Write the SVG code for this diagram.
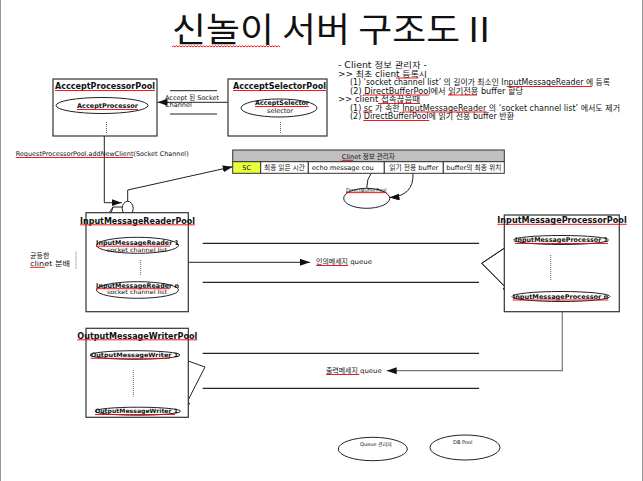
<svg xmlns="http://www.w3.org/2000/svg" width="643" height="481" viewBox="0 0 643 481">
<style>
text{font-family:"DejaVu Sans","Noto Sans CJK KR",sans-serif;fill:#111}
.b{font-weight:bold}
.t8{font-size:8px}
.t7{font-size:7px}
.t65{font-size:6.5px}
.t6{font-size:6px}
.t5{font-size:5px}
.title{font-family:"Noto Sans CJK KR","DejaVu Sans",sans-serif;font-size:34px}
.box{fill:#fff;stroke:#333;stroke-width:1.2}
.ell{fill:#fff;stroke:#222;stroke-width:1}
.sq{stroke:#e00;stroke-width:0.9;fill:none}
.dot{stroke:#666;stroke-width:1;stroke-dasharray:1,1;fill:none}
.con{stroke:#222;stroke-width:1;fill:none}
.q{stroke:#222;stroke-width:1.2}
.cell{fill:#fff;stroke:#333;stroke-width:1}
.c{text-anchor:middle}
</style>
<defs>
<marker id="arr" markerUnits="userSpaceOnUse" markerWidth="11" markerHeight="8" refX="10" refY="3.5" orient="auto">
<path d="M0,0 L10,3.5 L0,7 z" fill="#111"/>
</marker>
</defs>
<rect width="643" height="481" fill="#fff"/>
<line x1="0.5" y1="0" x2="0.5" y2="481" stroke="#999"/>
<line x1="642.5" y1="0" x2="642.5" y2="481" stroke="#999"/>

<g id="title">
<text class="title" x="172" y="42" textLength="318" lengthAdjust="spacingAndGlyphs">신놀이 서버 구조도 II</text>
<path class="sq" d="M172,47 l1.5,-1.2 l1.5,1.2 l1.5,-1.2 l1.5,1.2 l1.5,-1.2 l1.5,1.2 l1.5,-1.2 l1.5,1.2 l1.5,-1.2 l1.5,1.2 l1.5,-1.2 l1.5,1.2 l1.5,-1.2 l1.5,1.2 l1.5,-1.2 l1.5,1.2 l1.5,-1.2 l1.5,1.2 l1.5,-1.2 l1.5,1.2 l1.5,-1.2 l1.5,1.2 l1.5,-1.2 l1.5,1.2 l1.5,-1.2 l1.5,1.2 l1.5,-1.2 l1.5,1.2 l1.5,-1.2 l1.5,1.2 l1.5,-1.2 l1.5,1.2 l1.5,-1.2 l1.5,1.2 l1.5,-1.2 l1.5,1.2 l1.5,-1.2 l1.5,1.2 l1.5,-1.2 l1.5,1.2 l1.5,-1.2 l1.5,1.2 l1.5,-1.2 l1.5,1.2 l1.5,-1.2 l1.5,1.2 l1.5,-1.2 l1.5,1.2 l1.5,-1.2 l1.5,1.2 l1.5,-1.2 l1.5,1.2 l1.5,-1.2 l1.5,1.2 l1.5,-1.2 l1.5,1.2 l1.5,-1.2 l1.5,1.2 l1.5,-1.2 l1.5,1.2 l1.5,-1.2 l1.5,1.2 l1.5,-1.2 l1.5,1.2 l1.5,-1.2 l1.5,1.2 l1.5,-1.2 l1.5,1.2 l1.5,-1.2 l1.5,1.2 l1.5,-1.2 l1.5,1.2"/>
</g>

<g id="client-info-notes">
<text class="t8" x="338" y="68" textLength="89" lengthAdjust="spacingAndGlyphs">- Client 정보 관리자 -</text>
<text class="t8" x="338" y="76.5" textLength="89" lengthAdjust="spacingAndGlyphs">&gt;&gt; 최초 client 등록시</text>
<text class="t8" x="350" y="85" textLength="260" lengthAdjust="spacingAndGlyphs">(1) ‘socket channel list’ 의 길이가 최소인 InputMessageReader 에 등록</text>
<text class="t8" x="350" y="93.5" textLength="173" lengthAdjust="spacingAndGlyphs">(2) DirectBufferPool에서 읽기전용 buffer 할당</text>
<text class="t8" x="338" y="102" textLength="82" lengthAdjust="spacingAndGlyphs">&gt;&gt; client 접속끊음때</text>
<text class="t8" x="350" y="110.5" textLength="270" lengthAdjust="spacingAndGlyphs">(1) sc 가 속한 InputMessageReader 의 ‘socket channel list’ 에서도 제거</text>
<text class="t8" x="350" y="119" textLength="164" lengthAdjust="spacingAndGlyphs">(2) DirectBufferPool에 읽기 전용 buffer 반환</text>
<line class="sq" x1="396" y1="78" x2="418.5" y2="78"/>
<line class="sq" x1="506.7" y1="86.5" x2="591.7" y2="86.5"/>
<line class="sq" x1="363.3" y1="95" x2="429.3" y2="95"/>
<line class="sq" x1="448" y1="95" x2="477" y2="95"/>
<line class="sq" x1="378" y1="103.5" x2="420" y2="103.5"/>
<line class="sq" x1="363" y1="112" x2="372" y2="112"/>
<line class="sq" x1="401.7" y1="112" x2="486.7" y2="112"/>
<line class="sq" x1="363.3" y1="120.5" x2="429.3" y2="120.5"/>
</g>

<g id="connectors">
<line class="con" x1="228" y1="102.3" x2="157.5" y2="102.3" marker-end="url(#arr)"/>
<line class="con" x1="170" y1="90.7" x2="217" y2="90.7"/>
<line class="con" x1="170" y1="114" x2="217" y2="114"/>
<path class="con" d="M104.3,136 L104.3,202.7 L121.7,202.7" marker-end="url(#arr)"/>
<path class="con" d="M127.7,201.3 L127.7,190 L232.7,166.7" marker-end="url(#arr)"/>
<path class="con" d="M122.3,207 L113,207 L87,245 L96.7,245" marker-end="url(#arr)"/>
<path class="con" d="M113,207 L87,288.3 L96.7,288.3" marker-end="url(#arr)"/>
<path class="con" d="M366.7,188.3 Q367,168.5 384,167.8" marker-end="url(#arr)"/>
<path class="con" d="M413,173.3 Q414,196 389.5,197.5" marker-end="url(#arr)"/>
<line class="q" x1="202.7" y1="243.3" x2="479" y2="243.3"/>
<line class="q" x1="202.7" y1="282.3" x2="479" y2="282.3"/>
<line class="con" x1="188.3" y1="262.3" x2="310" y2="262.3" marker-end="url(#arr)"/>
<line class="q" x1="202.7" y1="353.3" x2="479" y2="353.3"/>
<line class="q" x1="202.7" y1="388.3" x2="479" y2="388.3"/>
<path d="M562.3,311.7 L562.3,370.7 L386.7,370.7" fill="none" stroke="#777" stroke-width="1.2" marker-end="url(#arr)"/>
<line class="con" x1="481.7" y1="263.3" x2="513.5" y2="242"/>
<line class="con" x1="481.7" y1="263.3" x2="511.7" y2="293.5"/>
<path class="con" d="M481.7,263.3 L513.5,242" marker-end="url(#arr)"/>
<path class="con" d="M481.7,263.3 L511.7,293.5" marker-end="url(#arr)"/>
<path class="con" d="M205,367 L175.5,356.5" marker-end="url(#arr)"/>
<path class="con" d="M205,367 L182.7,410.7" marker-end="url(#arr)"/>
</g>

<g id="queue-labels">
<text class="t65" x="165" y="99.5">Accept 된 Socket</text>
<text class="t65" x="165" y="107">Channel</text>
<text class="t65" x="15.7" y="156" textLength="173" lengthAdjust="spacingAndGlyphs">RequestProcessorPool.addNewClient(Socket Channel)</text>
<line class="sq" x1="15.7" y1="157.5" x2="133" y2="157.5"/>
<text class="t65" x="316" y="264" textLength="56" lengthAdjust="spacingAndGlyphs">인의메세지 queue</text>
<line class="sq" x1="316" y1="265.5" x2="348" y2="265.5"/>
<text class="t65" x="326" y="373" textLength="55.7" lengthAdjust="spacingAndGlyphs">출력메세지 queue</text>
<line class="sq" x1="326" y1="374.5" x2="359.3" y2="374.5"/>
<text class="t7" x="30" y="257.5">균등한</text>
<text class="t7" x="30" y="266" textLength="40" lengthAdjust="spacingAndGlyphs">clinet 분배</text>
<line class="sq" x1="30" y1="267.3" x2="45" y2="267.3"/>
<line class="dot" x1="76" y1="251.7" x2="76" y2="269.3"/>
</g>

<g id="AccceptProcessorPool">
<rect class="box" x="53" y="79" width="104" height="57"/>
<text class="b t8" x="55" y="89" textLength="100" lengthAdjust="spacingAndGlyphs">AccceptProcessorPool</text>
<line class="sq" x1="55" y1="90.5" x2="155" y2="90.5"/>
<ellipse class="ell" cx="102" cy="105.5" rx="46" ry="8"/>
<text class="b t65" x="77" y="108" textLength="61" lengthAdjust="spacingAndGlyphs">AcceptProcessor</text>
<line class="sq" x1="77" y1="109.5" x2="138" y2="109.5"/>
<line class="dot" x1="106.5" y1="122" x2="106.5" y2="133"/>
</g>

<g id="AccceptSelectorPool">
<rect class="box" x="228" y="79" width="99" height="57"/>
<text class="b t8" x="233" y="89" textLength="93" lengthAdjust="spacingAndGlyphs">AccceptSelectorPool</text>
<line class="sq" x1="233" y1="90.5" x2="326" y2="90.5"/>
<ellipse class="ell" cx="279" cy="108" rx="38" ry="9"/>
<text class="b t65" x="255" y="105.3" textLength="54" lengthAdjust="spacingAndGlyphs">AcceptSelector</text>
<line class="sq" x1="255" y1="106.5" x2="309" y2="106.5"/>
<text class="t65 c" x="280" y="113">selector</text>
<line class="dot" x1="280.5" y1="122" x2="280.5" y2="133"/>
</g>

<g id="junction">
<ellipse class="ell" cx="127.7" cy="208.3" rx="5.5" ry="7"/>
</g>

<g id="ClinetTable">
<rect x="232.7" y="150" width="271.6" height="11.7" fill="#c0c0c0" stroke="#333"/>
<text class="t65 c" x="368.3" y="159">Clinet 정보 관리자</text>
<line class="sq" x1="341.7" y1="160.3" x2="353.3" y2="160.3"/>
<rect x="232.7" y="161.7" width="28" height="11.6" fill="#e8ff3c" stroke="#333"/>
<rect class="cell" x="260.7" y="161.7" width="47.6" height="11.6"/>
<rect class="cell" x="308.3" y="161.7" width="76" height="11.6"/>
<rect class="cell" x="384.3" y="161.7" width="59" height="11.6"/>
<rect class="cell" x="443.3" y="161.7" width="61" height="11.6"/>
<text class="t65 c" x="246.7" y="169.8">SC</text>
<text class="t65 c" x="284.5" y="169.8" textLength="41" lengthAdjust="spacingAndGlyphs">최종 읽은 시간</text>
<text class="t65" x="311.7" y="169.8" textLength="62" lengthAdjust="spacingAndGlyphs">echo message cou</text>
<text class="t65 c" x="413.8" y="169.8" textLength="49" lengthAdjust="spacingAndGlyphs">읽기 전용 buffer</text>
<text class="t65 c" x="473.8" y="169.8" textLength="55" lengthAdjust="spacingAndGlyphs">buffer의 최종 위치</text>
</g>

<g id="DirectBufferPool">
<ellipse class="ell" cx="366.7" cy="198.3" rx="23" ry="10"/>
<text class="t5" x="346" y="191.5" textLength="40.5" lengthAdjust="spacingAndGlyphs">DirectBufferPool</text>
<line class="sq" x1="346" y1="192.6" x2="386.5" y2="192.6"/>
</g>

<g id="InputMessageReaderPool">
<rect class="box" x="86" y="212.7" width="102.3" height="99"/>
<text class="b t8" x="80" y="223.5" textLength="115" lengthAdjust="spacingAndGlyphs">InputMessageReaderPool</text>
<line class="sq" x1="80" y1="224.8" x2="195" y2="224.8"/>
<ellipse class="ell" cx="137.5" cy="245.3" rx="41" ry="8"/>
<text class="b t65" x="96" y="245" textLength="83" lengthAdjust="spacingAndGlyphs">InputMessageReader 1</text>
<line class="sq" x1="96" y1="246.2" x2="170" y2="246.2"/>
<text class="t6 c" x="137" y="251.8" textLength="60" lengthAdjust="spacingAndGlyphs">socket channel list</text>
<line class="dot" x1="140.7" y1="260" x2="140.7" y2="275"/>
<ellipse class="ell" cx="137.5" cy="290" rx="41" ry="8.3"/>
<text class="b t65" x="96" y="287.5" textLength="83" lengthAdjust="spacingAndGlyphs">InputMessageReader n</text>
<line class="sq" x1="96" y1="288.7" x2="170" y2="288.7"/>
<text class="t6 c" x="137" y="294" textLength="60" lengthAdjust="spacingAndGlyphs">socket channel list</text>
</g>

<g id="InputMessageProcessorPool">
<rect class="box" x="504.3" y="215" width="115" height="96.7"/>
<text class="b t8" x="497.3" y="223" textLength="129.4" lengthAdjust="spacingAndGlyphs">InputMessageProcessorPool</text>
<line class="sq" x1="497.3" y1="224.3" x2="626.7" y2="224.3"/>
<ellipse class="ell" cx="561" cy="240" rx="47.5" ry="4.5"/>
<text class="b t65" x="515" y="242.3" textLength="93" lengthAdjust="spacingAndGlyphs">InputMessageProcessor 1</text>
<line class="sq" x1="515" y1="243.5" x2="608" y2="243.5"/>
<line class="dot" x1="550.7" y1="255" x2="550.7" y2="280"/>
<ellipse class="ell" cx="561" cy="296.5" rx="49" ry="5"/>
<text class="b t65" x="512.7" y="298.8" textLength="95.6" lengthAdjust="spacingAndGlyphs">InputMessageProcessor n</text>
<line class="sq" x1="512.7" y1="300" x2="608.3" y2="300"/>
</g>

<g id="OutputMessageWriterPool">
<rect class="box" x="86" y="328.3" width="102.3" height="89"/>
<text class="b t8" x="77.3" y="338.5" textLength="120" lengthAdjust="spacingAndGlyphs">OutputMessageWriterPool</text>
<line class="sq" x1="77.3" y1="339.8" x2="197.3" y2="339.8"/>
<ellipse class="ell" cx="135" cy="355" rx="45" ry="4.3"/>
<text class="b t6" x="90.7" y="357.2" textLength="87.6" lengthAdjust="spacingAndGlyphs">OutputMessageWriter 1</text>
<line class="sq" x1="90.7" y1="358.3" x2="170" y2="358.3"/>
<line class="dot" x1="133.3" y1="370" x2="133.3" y2="396.7"/>
<ellipse class="ell" cx="137.8" cy="411.2" rx="42.8" ry="4"/>
<text class="b t6" x="95" y="413.4" textLength="83" lengthAdjust="spacingAndGlyphs">OutputMessageWriter 1</text>
<line class="sq" x1="95" y1="414.5" x2="175" y2="414.5"/>
</g>

<g id="QueueManager">
<ellipse class="ell" cx="372.8" cy="449" rx="34.5" ry="11.7"/>
<text class="t5 c" x="376" y="445.5">Queue 관리자</text>
</g>

<g id="DBPool">
<ellipse class="ell" cx="465" cy="447.5" rx="35" ry="12.5"/>
<text class="t5 c" x="462.7" y="443.5">DB Pool</text>
</g>
</svg>
